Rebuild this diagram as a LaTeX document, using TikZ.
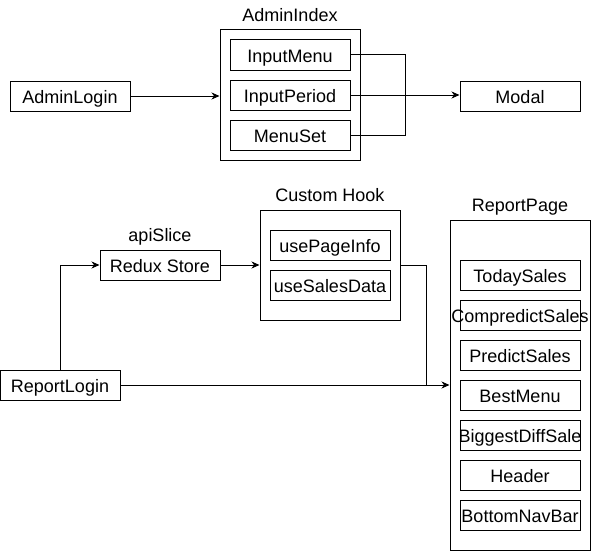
\documentclass[tikz,border=0pt]{standalone}
\usepackage{fontspec}
\setmainfont{Liberation Sans}
\usetikzlibrary{arrows.meta}
\newcommand{\zw}[1]{\makebox[0pt]{#1}}
\begin{document}
\begin{tikzpicture}[x=1pt,y=-1pt,
  txt/.style={font=\fontsize{18}{21}\selectfont},
  box/.style={txt,draw,line width=1pt,minimum width=120pt,minimum height=30pt,inner sep=0pt,text height=15pt,text depth=0pt},
  cont/.style={draw,line width=1pt,inner sep=0pt},
  lbl/.style={txt,inner sep=0pt,anchor=base},
  ln/.style={line width=1pt},
  arr/.style={line width=1pt,-{Stealth[length=8pt,width=7pt,inset=2.5pt]}}]
\useasboundingbox (0,0) rectangle (591,551);
% top part
\node[box] (al) at (70,96) {\zw{AdminLogin}};
\node[cont,minimum width=140pt,minimum height=130pt] (ai) at (290,95) {};
\node[lbl] (ail) at (290,21.7) {AdminIndex};
\node[box] (im) at (290,55) {\zw{InputMenu}};
\node[box] (ip) at (290,95) {\zw{InputPeriod}};
\node[box] (ms) at (290,135) {\zw{MenuSet}};
\node[box] (md) at (520,96) {\zw{Modal}};
\draw[arr] (al.east) -- (al.east -| ai.west);
\draw[ln] (im.east) -- ++(55,0) |- (ms.east);
\draw[arr] (ip.east) -- (ip.east -| md.west);
% bottom part
\node[box] (rl) at (60,385) {\zw{ReportLogin}};
\node[box] (rs) at (160,265) {\zw{Redux Store}};
\node[lbl] (rsl) at (160,241.7) {apiSlice};
\node[cont,minimum width=140pt,minimum height=110pt] (ch) at (330,265) {};
\node[lbl] (chl) at (330,201.7) {Custom Hook};
\node[box] (up) at (330,245) {\zw{usePageInfo}};
\node[box] (us) at (330,285) {\zw{useSalesData}};
\node[cont,minimum width=140pt,minimum height=330pt] (rp) at (520,385) {};
\node[lbl] (rpl) at (520,211.7) {ReportPage};
\node[box] (b1) at (520,275) {\zw{TodaySales}};
\node[box] (b2) at (520,315) {\zw{CompredictSales}};
\node[box] (b3) at (520,355) {\zw{PredictSales}};
\node[box] (b4) at (520,395) {\zw{BestMenu}};
\node[box] (b5) at (520,435) {\zw{BiggestDiffSale}};
\node[box] (b6) at (520,475) {\zw{Header}};
\node[box] (b7) at (520,515) {\zw{BottomNavBar}};
\coordinate (j) at (426,385);
\draw[arr] (rl.north) |- (rs.west);
\draw[arr] (rs.east) -- (rs.east -| ch.west);
\draw[ln] (ch.east) -| (j);
\draw[arr] (rl.east) -- (rp.west);
\end{tikzpicture}
\end{document}
